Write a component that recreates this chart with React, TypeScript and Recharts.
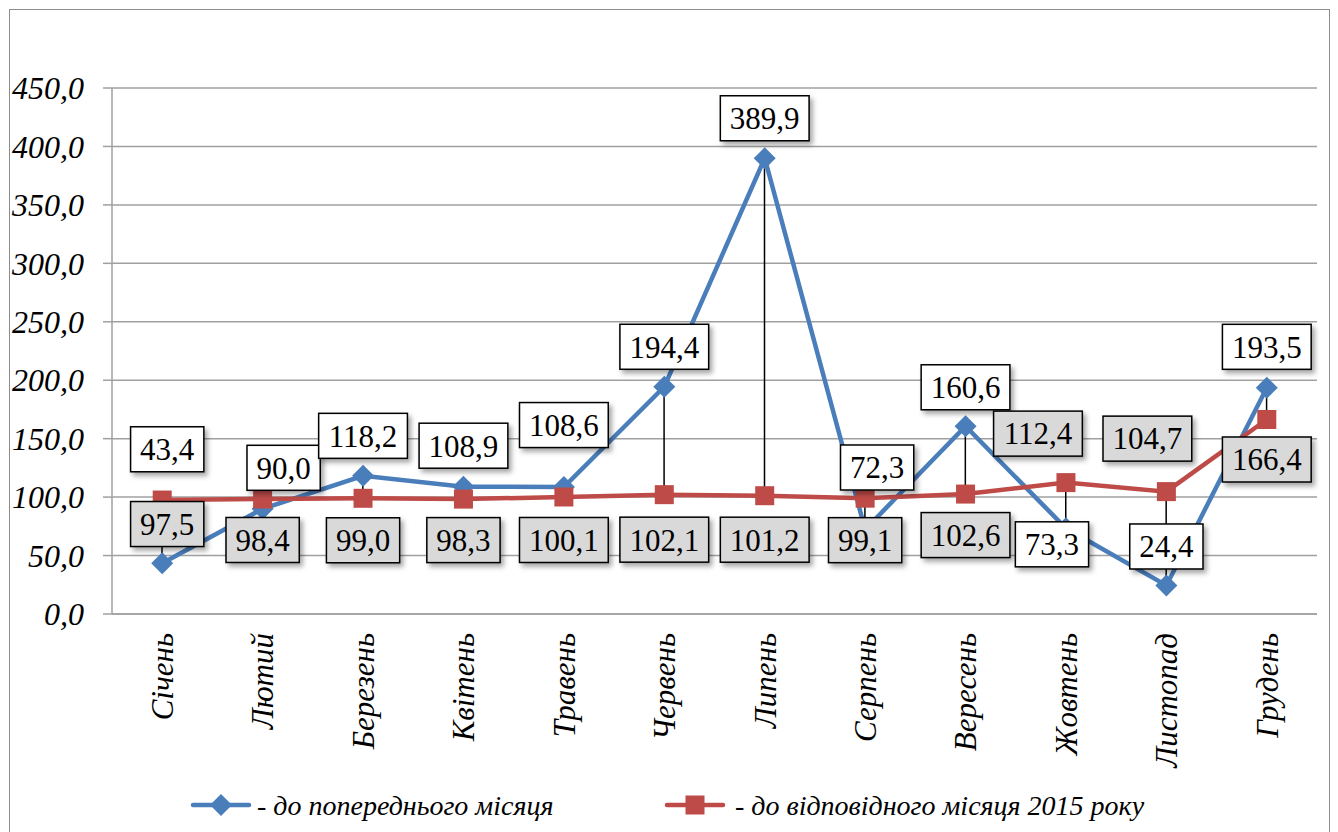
import React from 'react';
import { ComposedChart, Line, Bar, XAxis, YAxis, CartesianGrid, LabelList } from 'recharts';

const months = ['Січень', 'Лютий', 'Березень', 'Квітень', 'Травень', 'Червень', 'Липень', 'Серпень', 'Вересень', 'Жовтень', 'Листопад', 'Грудень'];
const prevMonth = [43.4, 90.0, 118.2, 108.9, 108.6, 194.4, 389.9, 72.3, 160.6, 73.3, 24.4, 193.5];
const sameMonth2015 = [97.5, 98.4, 99.0, 98.3, 100.1, 102.1, 101.2, 99.1, 102.6, 112.4, 104.7, 166.4];
const yTicks = [0, 50, 100, 150, 200, 250, 300, 350, 400, 450];
const seriesNames = ['- до попереднього місяця', '- до відповідного місяця 2015 року'];

// label box offsets (relative to the point), as placed in the original
const prevLabelOffset = [[5, -114], [21, -41], [0, -40], [0, -41], [0, -62], [0, -40], [0, -40], [12, -62], [0, -39], [-14, 16], [0, -39], [0, -41]];
const sameLabelOffset = [[5, 24], [0, 41], [0, 42], [0, 41], [0, 43], [0, 45], [0, 44], [0, 42], [0, 41], [-28, -49], [-19, -53], [0, 40]];

const BLUE = '#4A7EBB';
const RED = '#BE4B48';
const GRID = '#a0a0a0';
const FONT = "'Liberation Serif', 'Times New Roman', serif";

const data = months.map((m, i) => ({
  month: m,
  prev: prevMonth[i],
  same: sameMonth2015[i],
  hl: [Math.min(prevMonth[i], sameMonth2015[i]), Math.max(prevMonth[i], sameMonth2015[i])],
}));

const fmt = (v: number) => Number(v).toFixed(1).replace('.', ',');

const textWidth = (s: string, fs: number) => {
  let w = 0;
  for (const ch of s) w += ch === ',' ? 0.25 : 0.5;
  return w * fs;
};

const makeLabel = (offsets: number[][], fill: string) => (props: any) => {
  const { value, index } = props;
  const x = props.x ?? props.viewBox?.x;
  const y = props.y ?? props.viewBox?.y;
  if (x == null || y == null || index == null) return null;
  const [dx, dy] = offsets[index];
  const text = fmt(value);
  const fs = 31;
  const w = textWidth(text, fs) + 19;
  const h = 45;
  const cx = x + dx;
  const cy = y + dy;
  return (
    <g key={`lbl-${fill}-${index}`}>
      <rect x={cx - w / 2} y={cy - h / 2} width={w} height={h} fill={fill} stroke="#000" strokeWidth={1.5} filter="url(#lblShadow)" />
      <text className="serif-txt" x={cx} y={cy} dy="0.35em" textAnchor="middle" fontFamily={FONT} fontSize={fs} fill="#000">{text}</text>
    </g>
  );
};

const Diamond = (props: any) => {
  const { cx, cy, index } = props;
  if (cx == null || cy == null) return null;
  const r = 11;
  return <path key={`d-${index}`} d={`M${cx},${cy - r}L${cx + r},${cy}L${cx},${cy + r}L${cx - r},${cy}Z`} fill={BLUE} />;
};

const Square = (props: any) => {
  const { cx, cy, index } = props;
  if (cx == null || cy == null) return null;
  const s = 19;
  return <rect key={`s-${index}`} x={cx - s / 2} y={cy - s / 2} width={s} height={s} fill={RED} />;
};

const HighLow = (props: any) => {
  const { x, y, width, height } = props;
  if (x == null || y == null) return null;
  const top = Math.min(y, y + height);
  const bot = Math.max(y, y + height);
  const cx = x + width / 2;
  return <line x1={cx} x2={cx} y1={top} y2={bot} stroke="#000" strokeWidth={1.5} />;
};

const XTick = (props: any) => {
  const { x, y, payload } = props;
  return (
    <g transform={`translate(${x},${y + 19}) rotate(-90)`}>
      <text className="serif-txt" x={0} y={0} dy="0.35em" textAnchor="end" fontFamily={FONT} fontStyle="italic" fontSize={31} fill="#000">
        {payload.value}
      </text>
    </g>
  );
};

const YTick = (props: any) => {
  const { x, y, payload } = props;
  return (
    <text className="serif-txt" x={x} y={y} dy="0.35em" textAnchor="end" fontFamily={FONT} fontStyle="italic" fontSize={32} fill="#000">
      {fmt(payload.value)}
    </text>
  );
};

const css = `
#lsroot#lsroot text, #lsroot#lsroot tspan, #lsroot#lsroot .serif-txt {
  font-family: 'Liberation Serif', 'Times New Roman', serif !important;
}
`;

export default function App() {
  return (
    <div id="lsroot" style={{ position: 'absolute', left: 0, top: 0, width: 1338, height: 832, overflow: 'hidden', background: '#fff', fontFamily: FONT }}>
      <style>{css}</style>
      <svg width={0} height={0} style={{ position: 'absolute' }}>
        <defs>
          <filter id="lblShadow" x="-20%" y="-30%" width="150%" height="180%">
            <feDropShadow dx="3" dy="3.5" stdDeviation="2.5" floodColor="#000" floodOpacity="0.35" />
          </filter>
        </defs>
      </svg>
      <div style={{ position: 'absolute', left: 9, top: 9, width: 1319, height: 900, border: '1.5px solid #8c8c8c' }} />
      <div style={{ position: 'absolute', left: 0, top: 0 }}>
        <ComposedChart width={1338} height={832} data={data} margin={{ top: 88, right: 21, bottom: 0, left: 0 }}>
          <CartesianGrid vertical={false} stroke={GRID} strokeWidth={1.5} />
          <XAxis
            dataKey="month"
            height={218}
            tick={<XTick />}
            tickLine={false}
            tickSize={0}
            tickMargin={0}
            axisLine={{ stroke: GRID, strokeWidth: 1.5 }}
            interval={0}
          />
          <YAxis
            width={112}
            domain={[0, 450]}
            ticks={yTicks}
            tick={<YTick />}
            tickSize={9}
            tickMargin={19}
            tickLine={{ stroke: GRID, strokeWidth: 1.5 }}
            axisLine={{ stroke: GRID, strokeWidth: 1.5 }}
            allowDataOverflow
          />
          <Bar dataKey="hl" barSize={2} shape={<HighLow />} isAnimationActive={false} legendType="none" />
          <Line
            dataKey="prev"
            stroke={BLUE}
            strokeWidth={4.5}
            dot={<Diamond />}
            activeDot={false}
            isAnimationActive={false}
          >
            <LabelList dataKey="prev" content={makeLabel(prevLabelOffset, '#ffffff')} />
          </Line>
          <Line
            dataKey="same"
            stroke={RED}
            strokeWidth={4.5}
            dot={<Square />}
            activeDot={false}
            isAnimationActive={false}
          >
            <LabelList dataKey="same" content={makeLabel(sameLabelOffset, '#d9d9d9')} />
          </Line>
        </ComposedChart>
      </div>
      <svg width={1338} height={62} style={{ position: 'absolute', left: 0, top: 770 }}>
        <line x1={193} x2={249} y1={35} y2={35} stroke={BLUE} strokeWidth={4.5} strokeLinecap="round" />
        <path d="M221,24L232,35L221,46L210,35Z" fill={BLUE} />
        <text className="serif-txt" x={257} y={35} dy="0.35em" fontFamily={FONT} fontStyle="italic" fontSize={28} fill="#000">{seriesNames[0]}</text>
        <line x1={667} x2={723} y1={35} y2={35} stroke={RED} strokeWidth={4.5} strokeLinecap="round" />
        <rect x={685.5} y={25.5} width={19} height={19} fill={RED} />
        <text className="serif-txt" x={735} y={35} dy="0.35em" fontFamily={FONT} fontStyle="italic" fontSize={28} fill="#000">{seriesNames[1]}</text>
      </svg>
    </div>
  );
}
